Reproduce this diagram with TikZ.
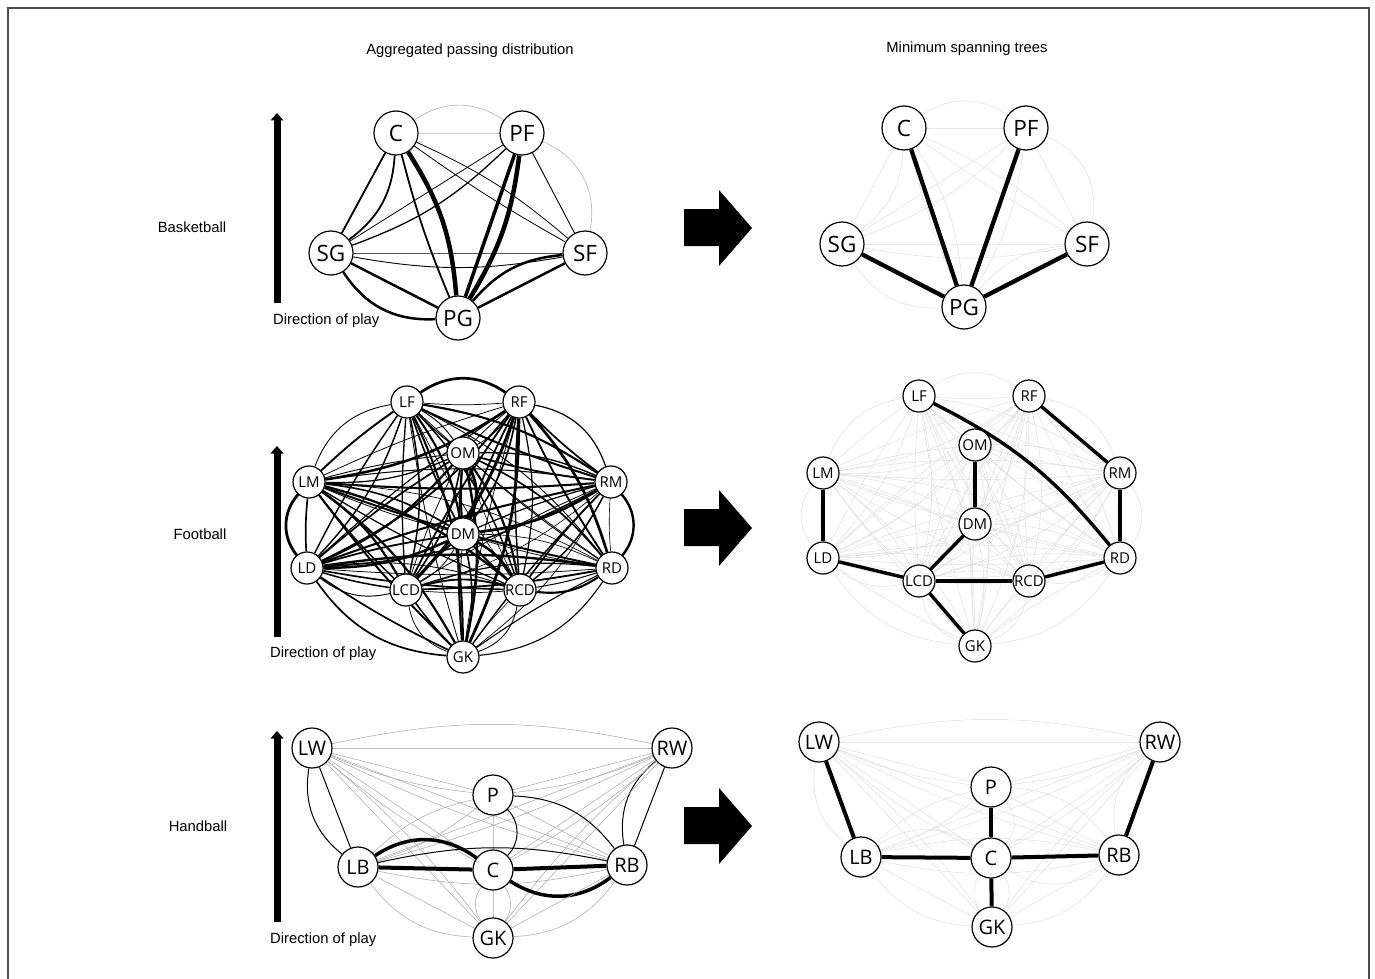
\documentclass[tikz,border=0pt]{standalone}
\usepackage{fontspec}
\setmainfont{Liberation Sans}
\newfontfamily\nodefont{Open Sans}
\usetikzlibrary{arrows.meta}
\pgfdeclarelayer{bg}
\pgfsetlayers{bg,main}
\tikzset{
  gnode/.style={circle, draw, line width=1.2pt, fill=white, inner sep=0pt},
  bnode/.style={gnode, minimum size=44pt, font=\nodefont\fontsize{22.5}{22.5}\selectfont},
  fnode/.style={gnode, minimum size=32pt, font=\nodefont\fontsize{15}{15}\selectfont},
  hnode/.style={gnode, minimum size=40pt, font=\nodefont\fontsize{20}{20}\selectfont},
  txt/.style={font=\fontsize{14.8}{16}\selectfont, inner sep=0pt},
  mst/.style={line width=4.3pt, black},
  faint/.style={black!13, line width=0.5pt},
}
\def\bbedges{C/PF/0.6/0/gray!60, C/PF/0.6/35/gray!60, C/SG/1.8/0/black, C/SG/1.8/25/black,
 C/PG/1.8/-4/black, C/PG/4.5/14/black, C/SF/0.8/8/black, C/SF/0.8/-3/black,
 PF/SG/0.8/0/black, PF/SG/1.3/12/black, PF/PG/3.5/0/black, PF/PG/4.5/12/black,
 PF/SF/0.9/0/black, PF/SF/0.6/40/gray!60, SG/SF/0.9/0/black, SG/SF/0.9/-10/black,
 SG/PG/2.5/0/black, SG/PG/2.5/-30/black, SF/PG/2.5/0/black, SF/PG/2.5/-22/black}
\def\hbedges{LW/RW/0.5/0/gray!70, LW/RW/0.5/12/gray!70, LW/P/0.5/0/gray!70, LW/P/0.5/-8/gray!70,
 LW/LB/1/0/black, LW/LB/1/-30/black, LW/C/0.5/0/gray!70, LW/C/0.5/-6/gray!70,
 LW/RB/0.5/0/gray!70, LW/RB/0.5/-5/gray!70, LW/GK/0.5/0/gray!70, LW/GK/0.5/6/gray!70,
 RW/P/0.5/0/gray!70, RW/P/0.5/8/gray!70, RW/RB/1/0/black, RW/RB/1/-30/black,
 RW/LB/0.5/0/gray!70, RW/LB/0.5/5/gray!70, RW/C/0.5/0/gray!70, RW/C/0.5/6/gray!70,
 RW/GK/0.5/0/gray!70, RW/GK/0.5/-6/gray!70, P/LB/0.5/10/gray!70, P/LB/0.5/-15/gray!70,
 P/C/0.5/0/gray!70, P/C/1/45/black, P/RB/0.5/0/gray!70, P/RB/1/25/black,
 LB/C/4/0/black, LB/C/3.5/35/black, LB/RB/1/12/black, LB/RB/0.5/-12/gray!70,
 C/RB/4/0/black, C/RB/3.5/-35/black, LB/GK/0.5/0/gray!70, LB/GK/0.5/-25/gray!70,
 C/GK/0.5/0/gray!70, C/GK/0.5/35/gray!70, C/GK/0.5/-35/gray!70, RB/GK/0.5/0/gray!70, RB/GK/0.5/25/gray!70}
\def\fbpairs{LF/RF/35, LF/OM/12, LF/LM/-30, LF/RM/12, LF/DM/12, LF/LD/12, LF/LCD/12, LF/RCD/12, LF/RD/12, LF/GK/12,
 RF/OM/12, RF/LM/12, RF/RM/30, RF/DM/12, RF/LD/12, RF/LCD/12, RF/RCD/12, RF/RD/12, RF/GK/12,
 OM/LM/12, OM/RM/12, OM/DM/25, OM/LD/12, OM/LCD/12, OM/RCD/12, OM/RD/12, OM/GK/12,
 LM/RM/8, LM/DM/12, LM/LD/-40, LM/LCD/12, LM/RCD/12, LM/RD/12, LM/GK/12,
 RM/DM/12, RM/LD/12, RM/LCD/12, RM/RCD/12, RM/RD/40, RM/GK/12,
 DM/LD/12, DM/LCD/15, DM/RCD/15, DM/RD/12, DM/GK/12,
 LD/LCD/-25, LD/RCD/12, LD/RD/8, LD/GK/-25,
 LCD/RCD/15, LCD/RD/12, LCD/GK/-30,
 RCD/RD/-20, RCD/GK/30,
 RD/GK/25}
\pgfmathsetseed{7}
\begin{document}
\begin{tikzpicture}[x=1pt,y=1pt]
\useasboundingbox (0,0) rectangle (1375,-979);
\draw[black!70, line width=1.3pt] (8,-979) -- (8,-8) -- (1369,-8) -- (1369,-979);

% headings
\node[txt] (h1) at (470,-51) {Aggregated passing distribution};
\node[txt] (h2) at (967,-49) {Minimum spanning trees};
\node[txt] (s1) at (192,-227) {Basketball};
\node[txt] (s2) at (200,-534) {Football};
\node[txt] (s3) at (198,-826) {Handball};
\node[txt, anchor=west] (d1) at (273,-321) {Direction of play};
\node[txt, anchor=west] (d2) at (270,-654) {Direction of play};
\node[txt, anchor=west] (d3) at (270,-940) {Direction of play};

% direction arrows
\foreach \bot/\tip in {303/113, 637/446, 922/731} {
  \fill (273.5,-\bot) rectangle (280.5,-\tip-6);
  \fill (277,-\tip) -- (283.5,-\tip-7.5) -- (270.5,-\tip-7.5) -- cycle;
}
% block arrows
\foreach \dy in {0,300,598} {
  \fill[shift={(0,-\dy)}] (684,-209) -- (719,-209) -- (719,-190) -- (752,-228) -- (719,-266) -- (719,-246) -- (684,-246) -- cycle;
}

% ---------- Basketball ----------
\node[bnode] (BLC)  at (396,-133) {C};
\node[bnode] (BLPF) at (522,-133) {PF};
\node[bnode] (BLSG) at (331,-253) {SG};
\node[bnode] (BLSF) at (585,-253) {SF};
\node[bnode] (BLPG) at (458,-318) {PG};
\node[bnode] (BRC)  at (904,-128) {C};
\node[bnode] (BRPF) at (1026,-128) {PF};
\node[bnode] (BRSG) at (842,-244) {SG};
\node[bnode] (BRSF) at (1087,-244) {SF};
\node[bnode] (BRPG) at (964,-307) {PG};

% ---------- Football ----------
\foreach \n/\x/\y in {LF/407/402, RF/519/402, OM/463/453, LM/309/482, RM/611/482, DM/463/534,
  LD/307/568, LCD/406/590, RCD/520/590, RD/612/568, GK/463/657}
  \node[fnode] (FL\n) at (\x,-\y) {\n};
\foreach \n/\x/\y in {LF/919/396, RF/1029/396, OM/975/445, LM/823/473, RM/1120/473, DM/975/524,
  LD/823/558, LCD/919/581, RCD/1029/581, RD/1120/558, GK/975/646}
  \node[fnode] (FR\n) at (\x,-\y) {\n};

% ---------- Handball ----------
\foreach \n/\x/\y in {LW/312/748, RW/672/748, P/493/795, LB/358/867, C/493/870, RB/627/865, GK/493/938}
  \node[hnode] (HL\n) at (\x,-\y) {\n};
\foreach \n/\x/\y in {LW/819/742, RW/1160/742, P/991/787, LB/861/857, C/991/858, RB/1119/855, GK/992/927}
  \node[hnode] (HR\n) at (\x,-\y) {\n};

\begin{pgfonlayer}{bg}
  % basketball
  \foreach \a/\b/\w/\bb/\c in \bbedges {
    \draw[\c, line width=\w pt] (BL\a) to[bend left=\bb] (BL\b);
    \draw[faint] (BR\a) to[bend left=\bb] (BR\b);
  }
  \foreach \a in {C,PF,SG,SF} \draw[mst] (BR\a) -- (BRPG);
  % football
  \foreach \a/\b/\bb in \fbpairs {
    \pgfmathsetmacro\wa{0.6+2.4*rnd}
    \pgfmathsetmacro\wb{0.5+1.6*rnd}
    \draw[line width=\wa pt] (FL\a) to[bend left=\bb] (FL\b);
    \draw[line width=\wb pt] (FL\a) to[bend left=-4] (FL\b);
    \draw[faint] (FR\a) to[bend left=\bb] (FR\b);
    \draw[faint] (FR\a) to[bend left=-4] (FR\b);
  }
  \draw[mst, line width=3.4pt] (FRLF) to[bend left=12] (FRRD);
  \foreach \a/\b in {RF/RM, RM/RD, OM/DM, LM/LD, LD/LCD, LCD/DM, LCD/RCD, RCD/RD, LCD/GK}
    \draw[mst, line width=3.4pt] (FR\a) -- (FR\b);
  % handball
  \foreach \a/\b/\w/\bb/\c in \hbedges {
    \draw[\c, line width=\w pt] (HL\a) to[bend left=\bb] (HL\b);
    \draw[faint] (HR\a) to[bend left=\bb] (HR\b);
  }
  \foreach \a/\b in {LW/LB, RW/RB, P/C, LB/C, C/RB, C/GK}
    \draw[mst, line width=4pt] (HR\a) -- (HR\b);
\end{pgfonlayer}
\end{tikzpicture}
\end{document}
